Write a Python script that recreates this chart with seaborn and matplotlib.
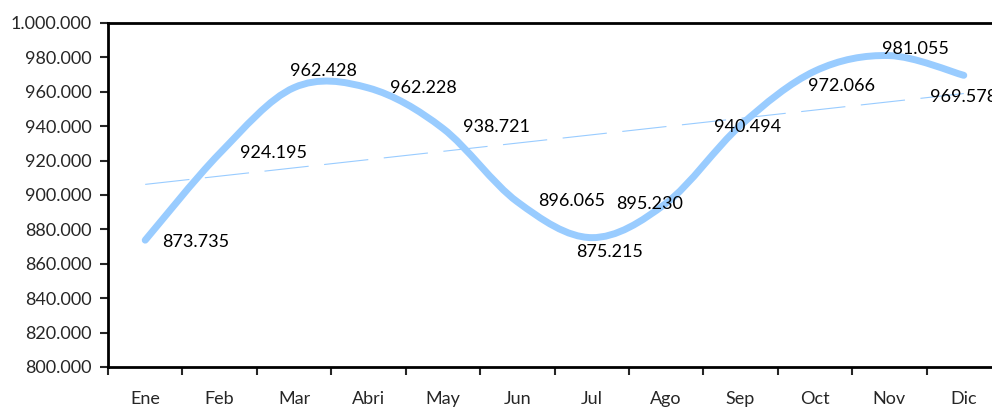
import numpy as np
import pandas as pd
import matplotlib.pyplot as plt
import seaborn as sns
from matplotlib.path import Path
from matplotlib.patches import PathPatch
from matplotlib.ticker import FuncFormatter, FixedLocator

# Monthly values
months = ['Ene', 'Feb', 'Mar', 'Abri', 'May', 'Jun', 'Jul', 'Ago', 'Sep', 'Oct', 'Nov', 'Dic']
values = [873735, 924195, 962428, 962228, 938721, 896065, 875215, 895230, 940494, 972066, 981055, 969578]
y_ticks = [800000, 820000, 840000, 860000, 880000, 900000, 920000, 940000, 960000, 980000, 1000000]

# label offsets (pixels) to mimic the hand-placed labels
label_offsets = [(50, -2), (54, 0), (29, 17), (55, 0), (54, 1), (54, 1),
                 (18, -14), (-17, -1), (7, -2), (27, -15), (26, 7), (0, -22)]

LINE_COLOR = '#99CCFF'


def dots(v, pos=None):
    return f"{int(round(v)):,}".replace(',', '.')


sns.set_style('white')
plt.rcParams['font.family'] = ['Lato', 'DejaVu Sans']

df = pd.DataFrame({'x': np.arange(len(months)), 'value': values})

fig = plt.figure(figsize=(9.92, 4.08), dpi=100)
ax = fig.add_axes([108 / 992, 41 / 408, 893 / 992, 344 / 408])

# linear trendline
sns.regplot(data=df, x='x', y='value', ax=ax, scatter=False, ci=None, truncate=True,
            line_kws={'color': LINE_COLOR, 'lw': 0.8, 'linestyle': (0, (40, 14))})

# smoothed line (Catmull-Rom style bezier, like Excel "smoothed line")
pts = df[['x', 'value']].to_numpy(dtype=float)
verts = [pts[0]]
codes = [Path.MOVETO]
n = len(pts)
for i in range(n - 1):
    p_prev = pts[max(i - 1, 0)]
    p0 = pts[i]
    p1 = pts[i + 1]
    p_next = pts[min(i + 2, n - 1)]
    c1 = p0 + (p1 - p_prev) / 6
    c2 = p1 - (p_next - p0) / 6
    verts += [c1, c2, p1]
    codes += [Path.CURVE4] * 3
patch = PathPatch(Path(verts, codes), facecolor='none', edgecolor=LINE_COLOR,
                  lw=5, capstyle='round', joinstyle='round', zorder=3)
ax.add_patch(patch)

# data labels
for i, v in enumerate(values):
    dx, dy = label_offsets[i]
    ax.annotate(dots(v), (i, v), xytext=(dx, dy), textcoords='offset pixels',
                ha='center', va='center', fontsize=13, color='black', zorder=4)

ax.set_xlim(-0.5, 11.5)
ax.set_ylim(800000, 1000000)
ax.yaxis.set_major_locator(FixedLocator(y_ticks))
ax.yaxis.set_major_formatter(FuncFormatter(dots))
ax.set_xticks(np.arange(len(months)))
ax.set_xticklabels(months)
ax.set_xticks(np.arange(-0.5, 12, 1), minor=True)
ax.tick_params(axis='x', which='major', length=0, pad=17, labelsize=13)
ax.tick_params(axis='x', which='minor', length=6, width=1.5, direction='out', bottom=True)
ax.tick_params(axis='y', length=6, width=1.5, direction='out', left=True, pad=6, labelsize=13)
ax.set_xlabel('')
ax.set_ylabel('')

for side in ['left', 'bottom', 'top', 'right']:
    ax.spines[side].set_visible(True)
    ax.spines[side].set_color('black')
    ax.spines[side].set_linewidth(2)

fig.savefig('out.png', dpi=100)
